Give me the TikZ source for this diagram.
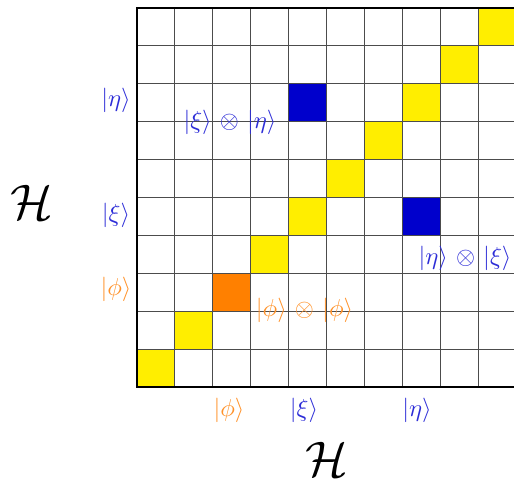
\documentclass[tikz,border=0pt]{standalone}
\usepackage{amsmath}
\definecolor{cyell}{RGB}{255,238,0}
\definecolor{cblue}{RGB}{0,0,204}
\definecolor{corange}{RGB}{255,128,0}
\definecolor{tblue}{RGB}{45,45,215}
\definecolor{torange}{RGB}{255,145,40}
\newcommand{\tp}{\mkern2mu\otimes\mkern2mu}
\begin{document}
\begin{tikzpicture}[x=1pt,y=1pt,
  gridline/.style={draw=black!70,line width=1pt},
  frameline/.style={draw=black,line width=2.2pt},
  lab/.style={inner sep=0pt,scale=2.45},
  bigH/.style={inner sep=0pt,scale=5}]
\useasboundingbox (0,0) rectangle (514,480);
\def\cw{37.9}
\begin{scope}
\clip (0,0) rectangle (514,480);
\foreach \i in {0,1,3,4,5,6,7,8,9}
  \fill[cyell] ({137+\i*\cw},{93+\i*\cw}) rectangle ++(\cw,\cw);
\fill[corange] ({137+2*\cw},{93+2*\cw}) rectangle ++(\cw,\cw);
\fill[cblue] ({137+4*\cw},{93+7*\cw}) rectangle ++(\cw,\cw);
\fill[cblue] ({137+7*\cw},{93+4*\cw}) rectangle ++(\cw,\cw);
\foreach \k in {1,...,10} {
  \draw[gridline] ({137+\k*\cw},93) -- ({137+\k*\cw},472);
  \draw[gridline] (137,{93+\k*\cw}) -- (520,{93+\k*\cw});
}
\draw[frameline] (520,472) -- (137,472) -- (137,93) -- (520,93);
\end{scope}
% axis labels
\node[lab,text=tblue] (leta) at (116,380) {$|\eta\rangle$};
\node[lab,text=tblue] (lxi) at (116,265) {$|\xi\rangle$};
\node[lab,text=torange] (lphi) at (116,191) {$|\phi\rangle$};
\node[lab,text=torange] (bphi) at (229,70) {$|\phi\rangle$};
\node[lab,text=tblue] (bxi) at (304,70) {$|\xi\rangle$};
\node[lab,text=tblue] (beta) at (417,70) {$|\eta\rangle$};
% inner labels
\node[lab,text=tblue] (xieta) at (230,358) {$|\xi\rangle\tp|\eta\rangle$};
\node[lab,text=tblue] (etaxi) at (465,221.5) {$|\eta\rangle\tp|\xi\rangle$};
\node[lab,text=torange] (phiphi) at (304.5,169.5) {$|\phi\rangle\tp|\phi\rangle$};
% big H
\node[bigH] (Hl) at (32,278) {$\mathcal{H}$};
\node[bigH] (Hb) at (327,21) {$\mathcal{H}$};
\end{tikzpicture}
\end{document}
